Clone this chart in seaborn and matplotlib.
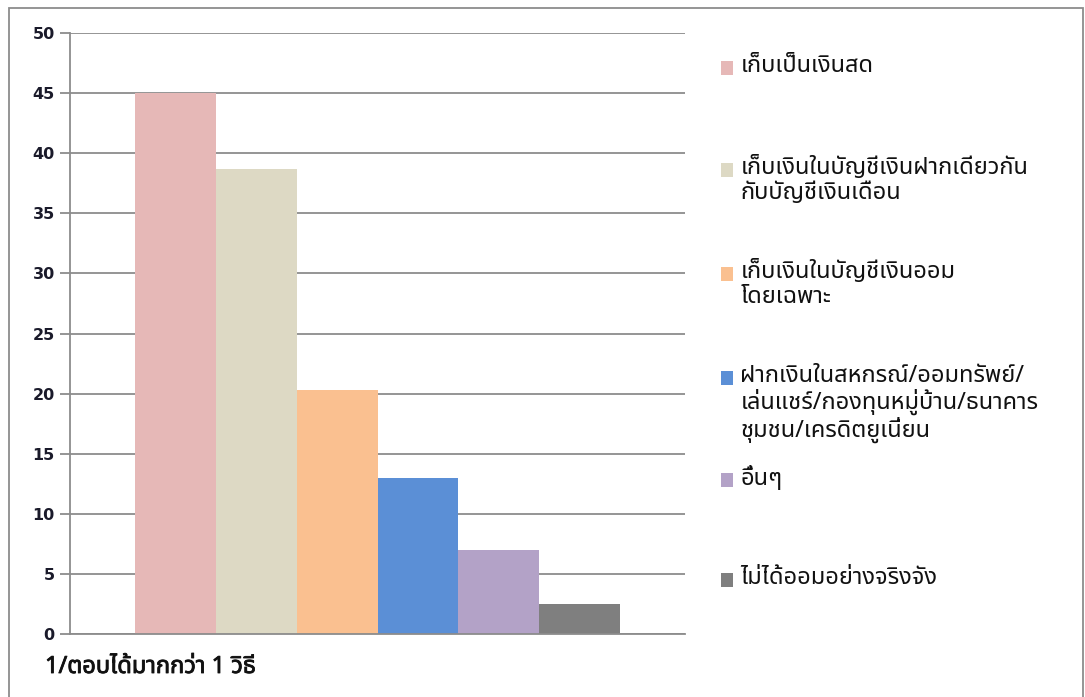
import matplotlib
matplotlib.use("Agg")
import matplotlib.pyplot as plt
from matplotlib import font_manager
from matplotlib.patches import Rectangle
import matplotlib.patheffects as pe
import seaborn as sns
import pandas as pd

# ---------------- data ----------------
group = "1"
methods = [
    "เก็บเป็นเงินสด",
    "เก็บเงินในบัญชีเงินฝากเดียวกัน\nกับบัญชีเงินเดือน",
    "เก็บเงินในบัญชีเงินออม\nโดยเฉพาะ",
    "ฝากเงินในสหกรณ์/ออมทรัพย์/\nเล่นแชร์/กองทุนหมู่บ้าน/ธนาคาร\nชุมชน/เครดิตยูเนี่ยน",
    "อื่นๆ",
    "ไม่ได้ออมอย่างจริงจัง",
]
values = [45.0, 38.7, 20.3, 13.0, 7.0, 2.5]
colors = ["#E6B8B7", "#DDD9C4", "#FAC090", "#5B8FD6", "#B3A2C7", "#7F7F7F"]
yticks = list(range(0, 51, 5))
footnote = "1/ตอบได้มากกว่า 1 วิธี"

# ---------------- font with Thai glyphs ----------------
def find_thai_font():
    try:
        from fontTools.ttLib import TTFont
    except Exception:
        return None
    pref = ["Tahoma", "Noto Sans Thai", "Loma", "Garuda", "Waree", "Umpush",
            "Kinnari", "Norasi", "Sawasdee", "Laksaman", "Sarabun"]
    found = {}
    for f in font_manager.fontManager.ttflist:
        if f.name in found:
            continue
        try:
            tt = TTFont(f.fname, fontNumber=0, lazy=True)
            cmap = tt.getBestCmap()
            if cmap and ord("ก") in cmap and ord("ญ") in cmap:
                found[f.name] = f.fname
        except Exception:
            pass
    for p in pref:
        if p in found:
            return p
    if found:
        return sorted(found)[0]
    return None

sns.set_theme(style="white")
thai = find_thai_font()
fam = [thai, "DejaVu Sans"] if thai else ["DejaVu Sans"]
plt.rcParams["font.family"] = fam

# ---------------- figure ----------------
W, H = 1085, 697
fig = plt.figure(figsize=(W / 100, H / 100), dpi=100)
fig.patch.set_facecolor("white")

ax = fig.add_axes([70 / W, 1 - 634 / H, (685 - 70) / W, (634 - 33) / H])

df = pd.DataFrame({"group": [group] * len(values), "method": methods, "value": values})
sns.barplot(data=df, x="group", y="value", hue="method", hue_order=methods,
            palette=colors, width=0.79, saturation=1, legend=False, ax=ax,
            linewidth=0)

ax.set_xlim(-0.5, 0.5)
ax.set_ylim(0, 50)
ax.set_yticks(yticks)
ax.set_yticklabels([str(t) for t in yticks], fontsize=11.5, fontweight="bold",
                   color="#1a1a2a", family="DejaVu Sans")
ax.set_xticks([])
ax.set_xlabel("")
ax.set_ylabel("")
ax.set_facecolor("none")
ax.grid(axis="y", color="#8c8c8c", linewidth=1.3)
ax.set_axisbelow(True)
for s in ["top", "right"]:
    ax.spines[s].set_visible(False)
for s in ["left", "bottom"]:
    ax.spines[s].set_color("#8c8c8c")
    ax.spines[s].set_linewidth(1.3)
ax.tick_params(axis="y", which="major", left=True, length=7, width=1.3,
               color="#8c8c8c", pad=4)

# ---------------- legend (one entry each, Excel-like spacing) ----------------
tops = [54, 156, 260, 364, 466, 566]
for bars, lab, top in zip(ax.containers, methods, tops):
    h = bars.patches[0]
    leg = fig.legend([h], [lab], loc="upper left",
                     bbox_to_anchor=(721 / W, 1 - top / H), bbox_transform=fig.transFigure,
                     frameon=False, fontsize=17, handlelength=0.52, handleheight=0.52,
                     handletextpad=0.3, borderpad=0, borderaxespad=0)
    for t in leg.get_texts():
        t.set_color("#111111")
        t.set_linespacing(1.05)
    try:
        for col in leg._legend_handle_box.get_children():
            for item in col.get_children():
                item.align = "top"
    except Exception:
        pass
    for hh in leg.legend_handles:
        hh.set_y(hh.get_y() - 5)

# ---------------- footnote ----------------
fig.text(45 / W, 1 - 667 / H, footnote, fontsize=17, fontweight="bold",
         color="#111111", va="center", ha="left",
         path_effects=[pe.withStroke(linewidth=0.6, foreground="#111111")])

# ---------------- outer frame ----------------
fig.add_artist(Rectangle((9 / W, -0.05), (1083 - 9) / W, 1.05 - 8 / H,
                         transform=fig.transFigure, fill=False,
                         edgecolor="#8c8c8c", linewidth=1.3))

fig.savefig("out.png", dpi=100, facecolor="white")
